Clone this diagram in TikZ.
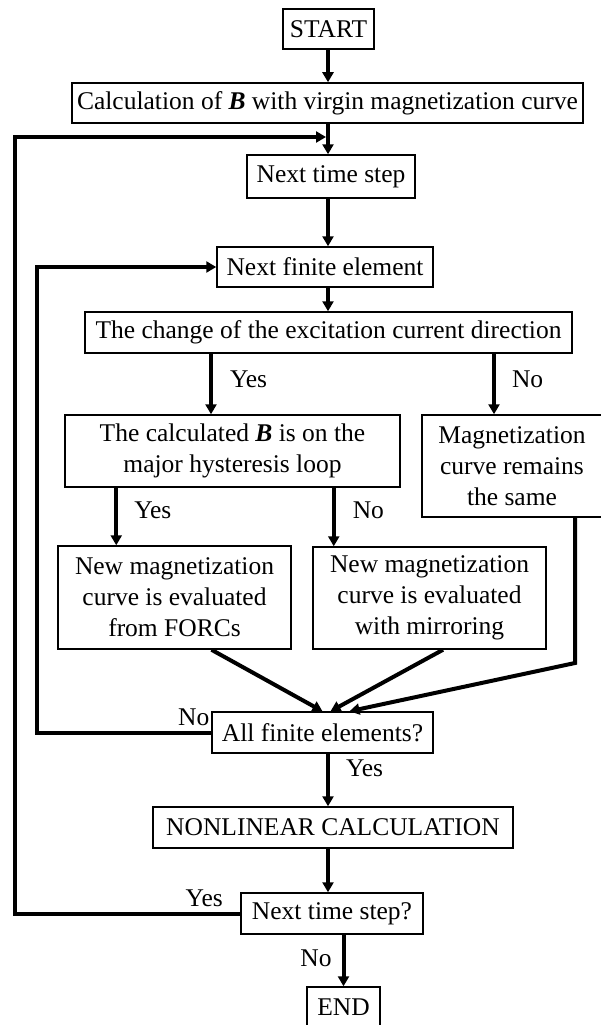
\documentclass[tikz,border=0pt]{standalone}
\usepackage{fontspec}
\setmainfont{Liberation Serif}
\usepackage{tikz}
\usetikzlibrary{arrows.meta,positioning,calc}

\begin{document}
\begin{tikzpicture}[x=1pt, y=-1pt,
  fbox/.style={rectangle, draw, line width=1.5pt, inner sep=0pt,
               font=\fontsize{25.5}{31}\selectfont, align=center},
  lbl/.style={inner sep=0pt, font=\fontsize{25.5}{31}\selectfont},
  farr/.style={-{Triangle[length=10pt,width=11pt]}, line width=4pt}
]
\useasboundingbox (0,0) rectangle (601,1025);

% Main column
\node[fbox, minimum width=91pt,  minimum height=40pt] (start)  at (328.5,29)   {START};
\node[fbox, minimum width=511pt, minimum height=40pt] (calc)   at (327.5,103)  {Calculation of \textbf{\textit{B}} with virgin magnetization curve};
\node[fbox, minimum width=168pt, minimum height=43pt] (nts)    at (331,176.5)  {Next time step};
\node[fbox, minimum width=216pt, minimum height=40pt] (nfe)    at (325,267)    {Next finite element};
\node[fbox, minimum width=487pt, minimum height=41pt] (chg)    at (328.5,332.5){The change of the excitation current direction};

% Branches
\node[fbox, minimum width=335pt, minimum height=72pt]  (hyst)  at (232.5,451)  {The calculated \textbf{\textit{B}} is on the\\major hysteresis loop};
\node[fbox, minimum width=180pt, minimum height=102pt] (same)  at (512,466)    {Magnetization\\curve remains\\the same};
\node[fbox, minimum width=233pt, minimum height=103pt] (forcs) at (174.5,597.5){New magnetization\\curve is evaluated\\from FORCs};
\node[fbox, minimum width=233pt, minimum height=102pt] (mirr)  at (429.5,598)  {New magnetization\\curve is evaluated\\with mirroring};

% Lower column
\node[fbox, minimum width=221pt, minimum height=41pt] (all)    at (322.5,732.5){All finite elements?};
\node[fbox, minimum width=360pt, minimum height=41pt] (nonlin) at (333,827.5)  {NONLINEAR CALCULATION};
\node[fbox, minimum width=182pt, minimum height=41pt] (ntsq)   at (332,913.5)  {Next time step?};
\node[fbox, minimum width=73pt,  minimum height=40pt] (end)    at (343.5,1007) {END};

% Helper coordinates
\coordinate (spine) at (328,0);
\coordinate (nl)    at (37,0);
\coordinate (tl)    at (15,137);
\coordinate (tj)    at (326,137);
\coordinate (sbend) at (575,663);

% Arrows
\draw[farr] (spine |- start.south) -- (spine |- calc.north);
\draw[farr] (spine |- calc.south)  -- (spine |- nts.north);
\draw[farr] (spine |- nts.south)   -- (spine |- nfe.north);
\draw[farr] (spine |- nfe.south)   -- (spine |- chg.north);

\draw[farr] ([xshift=-21.5pt]hyst.north |- chg.south) -- node[lbl, pos=0.42, anchor=west, xshift=17pt] (y1) {Yes} ([xshift=-21.5pt]hyst.north);
\draw[farr] ([xshift=-18pt]same.north |- chg.south)   -- node[lbl, pos=0.42, anchor=west, xshift=16pt] (n1) {No}  ([xshift=-18pt]same.north);

\draw[farr] ([xshift=52pt]hyst.south west) -- node[lbl, pos=0.39, anchor=west, xshift=16pt] (y2) {Yes} ([xshift=52pt]hyst.south west |- forcs.north);
\draw[farr] ([xshift=-67pt]hyst.south east) -- node[lbl, pos=0.39, anchor=west, xshift=17pt] (n2) {No} ([xshift=-67pt]hyst.south east |- mirr.north);

\draw[farr] ([xshift=37pt]forcs.south) -- (all.north);
\draw[farr] ([xshift=13.5pt]mirr.south) -- ([xshift=8pt]all.north);
\draw[farr] (same.south -| sbend) -- (sbend) -- ([xshift=27pt]all.north);

\draw[farr] (all.west) -- node[lbl, pos=0.1, above=5pt] (n3) {No} (all.west -| nl) |- (nfe.west);
\draw[farr] (spine |- all.south) -- node[lbl, pos=0.28, anchor=west, xshift=16pt] (y3) {Yes} (spine |- nonlin.north);
\draw[farr] (spine |- nonlin.south) -- (spine |- ntsq.north);

\draw[farr] (ntsq.west) -- node[lbl, pos=0.16, above=5pt] (y4) {Yes} (ntsq.west -| tl) -- (tl) -- (tj);
\draw[farr] (end.north |- ntsq.south) -- node[lbl, pos=0.45, anchor=east, xshift=-10pt] (n4) {No} (end.north);
\end{tikzpicture}
\end{document}
